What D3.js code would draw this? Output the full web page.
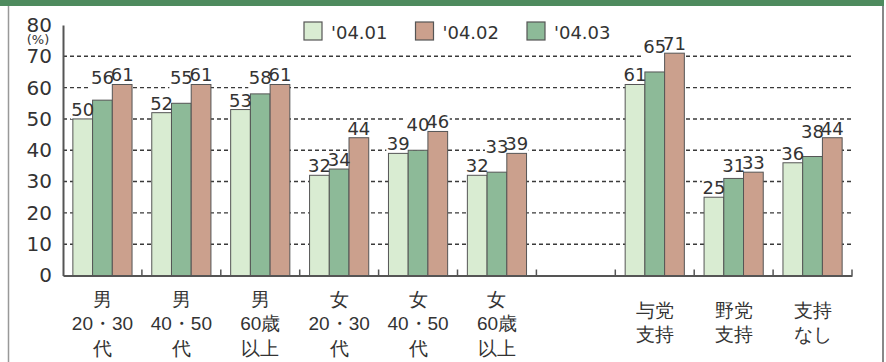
<!DOCTYPE html>
<html>
<head>
<meta charset="utf-8">
<script src="https://cdn.jsdelivr.net/npm/d3@7"></script>
<style>
  body { margin: 0; background: #fff; }
  svg { display: block; font-family: "DejaVu Sans", "Noto Sans CJK JP", sans-serif; }
</style>
</head>
<body>
<svg width="886" height="362"></svg>
<script>
// categories (one empty slot between the age groups and the party groups)
var categories = ["男|20・30|代", "男|40・50|代", "男|60歳|以上", "女|20・30|代", "女|40・50|代", "女|60歳|以上", "", "与党|支持", "野党|支持", "支持|なし"];
var seriesNames = ["'04.01", "'04.02", "'04.03"];
var v0401 = [50, 52, 53, 32, 39, 32, null, 61, 25, 36];
var v0402 = [61, 61, 61, 44, 46, 39, null, 71, 33, 44];
var v0403 = [56, 55, 58, 34, 40, 33, null, 65, 31, 38];
var yTicks = [0, 10, 20, 30, 40, 50, 60, 70, 80];

var colors = { "'04.01": "#d9ecd2", "'04.02": "#cba08d", "'04.03": "#8dba98" };
// bars are drawn in this order inside a group
var barOrder = ["'04.01", "'04.03", "'04.02"];
var values = { "'04.01": v0401, "'04.02": v0402, "'04.03": v0403 };

var svg = d3.select("svg");
var ink = "#333";

// frame
svg.append("rect").attr("x", 0).attr("y", 0).attr("width", 884).attr("height", 6).attr("fill", "#4e8b5e");
svg.append("line").attr("x1", 8.5).attr("x2", 8.5).attr("y1", 6).attr("y2", 362).attr("stroke", "#999").attr("stroke-width", 1.5);
svg.append("line").attr("x1", 883).attr("x2", 883).attr("y1", 6).attr("y2", 362).attr("stroke", "#888").attr("stroke-width", 2);

var plotL = 63, plotR = 852, plotT = 25, plotB = 275.5;

var x0 = d3.scaleBand()
  .domain(categories.map(function (d, i) { return i; }))
  .range([plotL, plotR])
  .padding(0);

var x1 = d3.scaleBand()
  .domain(barOrder)
  .range([0, x0.bandwidth()])
  .paddingInner(0)
  .paddingOuter(0.5);

var y = d3.scaleLinear().domain([0, 80]).range([plotB, plotT]);

// grid
svg.append("g").selectAll("line")
  .data(yTicks.filter(function (t) { return t > 0 && t < 80; }))
  .enter().append("line")
  .attr("x1", plotL).attr("x2", plotR)
  .attr("y1", function (d) { return y(d); }).attr("y2", function (d) { return y(d); })
  .attr("stroke", "#3a3a3a").attr("stroke-width", 1.4).attr("stroke-dasharray", "4,3");

// build label data per bar
var bars = [];
categories.forEach(function (c, i) {
  barOrder.forEach(function (s, k) {
    var v = values[s][i];
    if (v == null) return;
    bars.push({ cat: i, series: s, value: v, k: k });
  });
});
// label baseline: just above the bar; lift it to the next bar's label when they would crowd
bars.forEach(function (b) {
  b.ly = y(b.value) - 3;
});
bars.forEach(function (b) {
  if (b.k !== 1) return;
  var next = bars.find(function (o) { return o.cat === b.cat && o.k === 2; });
  if (next && next.value > b.value && next.value - b.value <= 6) b.ly = next.ly + 3;
});

var fs = 18;
// white boxes behind the value labels
svg.append("g").selectAll("rect")
  .data(bars)
  .enter().append("rect")
  .attr("x", function (d) { return x0(d.cat) + x1(d.series) + x1.bandwidth() / 2 - 12; })
  .attr("y", function (d) { return d.ly - 14; })
  .attr("width", 24)
  .attr("height", function (d) { return y(d.value) - d.ly + 14; })
  .attr("fill", "#fff");

// bars
svg.append("g").selectAll("rect")
  .data(bars)
  .enter().append("rect")
  .attr("x", function (d) { return x0(d.cat) + x1(d.series); })
  .attr("y", function (d) { return y(d.value); })
  .attr("width", x1.bandwidth())
  .attr("height", function (d) { return plotB - y(d.value); })
  .attr("fill", function (d) { return colors[d.series]; })
  .attr("stroke", "#555")
  .attr("stroke-width", 1);

// value labels
svg.append("g").selectAll("text")
  .data(bars)
  .enter().append("text")
  .attr("x", function (d) { return x0(d.cat) + x1(d.series) + x1.bandwidth() / 2; })
  .attr("y", function (d) { return d.ly; })
  .attr("text-anchor", "middle")
  .attr("font-size", fs)
  .attr("fill", ink)
  .text(function (d) { return d.value; });

// y axis
var yAxis = svg.append("g")
  .attr("transform", "translate(" + plotL + ",0)")
  .call(d3.axisLeft(y).tickValues(yTicks).tickSize(0).tickSizeOuter(0).tickPadding(11));
yAxis.select(".domain").attr("stroke", "#555").attr("stroke-width", 2);
yAxis.selectAll("text").attr("font-size", 20).attr("fill", ink).attr("font-family", "DejaVu Sans");
svg.append("text")
  .attr("x", 38).attr("y", 44)
  .attr("text-anchor", "middle")
  .attr("font-size", 13).attr("fill", ink)
  .text("(%)");

// x axis
var xAxis = svg.append("g")
  .attr("transform", "translate(0," + plotB + ")")
  .call(d3.axisBottom(x0).tickSize(0).tickSizeOuter(0).tickFormat(""));
xAxis.select(".domain").attr("stroke", "#555").attr("stroke-width", 2);
xAxis.selectAll(".tick text").each(function (d) {
  var lines = categories[d] ? categories[d].split("|") : [];
  var t = d3.select(this)
    .attr("fill", ink)
    .attr("font-size", 19)
    .attr("y", lines.length === 3 ? 30 : 41)
    .attr("dy", 0);
  lines.forEach(function (l, j) {
    t.append("tspan").attr("x", 0).attr("dy", j === 0 ? 0 : 24.5).text(l);
  });
});
// small tick marks between groups
svg.append("g").selectAll("line")
  .data(categories.map(function (d, i) { return i; }).slice(1).concat([null]))
  .enter().append("line")
  .attr("x1", function (d) { return d === null ? plotR : x0(d); })
  .attr("x2", function (d) { return d === null ? plotR : x0(d); })
  .attr("y1", plotB - 6).attr("y2", plotB)
  .attr("stroke", "#555").attr("stroke-width", 1.5);

// legend
var legend = svg.append("g").selectAll("g")
  .data(seriesNames)
  .enter().append("g")
  .attr("transform", function (d, i) { return "translate(" + (304 + i * 111.5) + ",22)"; });
legend.append("rect")
  .attr("width", 18).attr("height", 18)
  .attr("fill", function (d) { return colors[d]; })
  .attr("stroke", "#555").attr("stroke-width", 1.2);
legend.append("text")
  .attr("x", 27).attr("y", 17)
  .attr("font-size", 18).attr("fill", ink)
  .text(function (d) { return d; });
</script>
</body>
</html>
